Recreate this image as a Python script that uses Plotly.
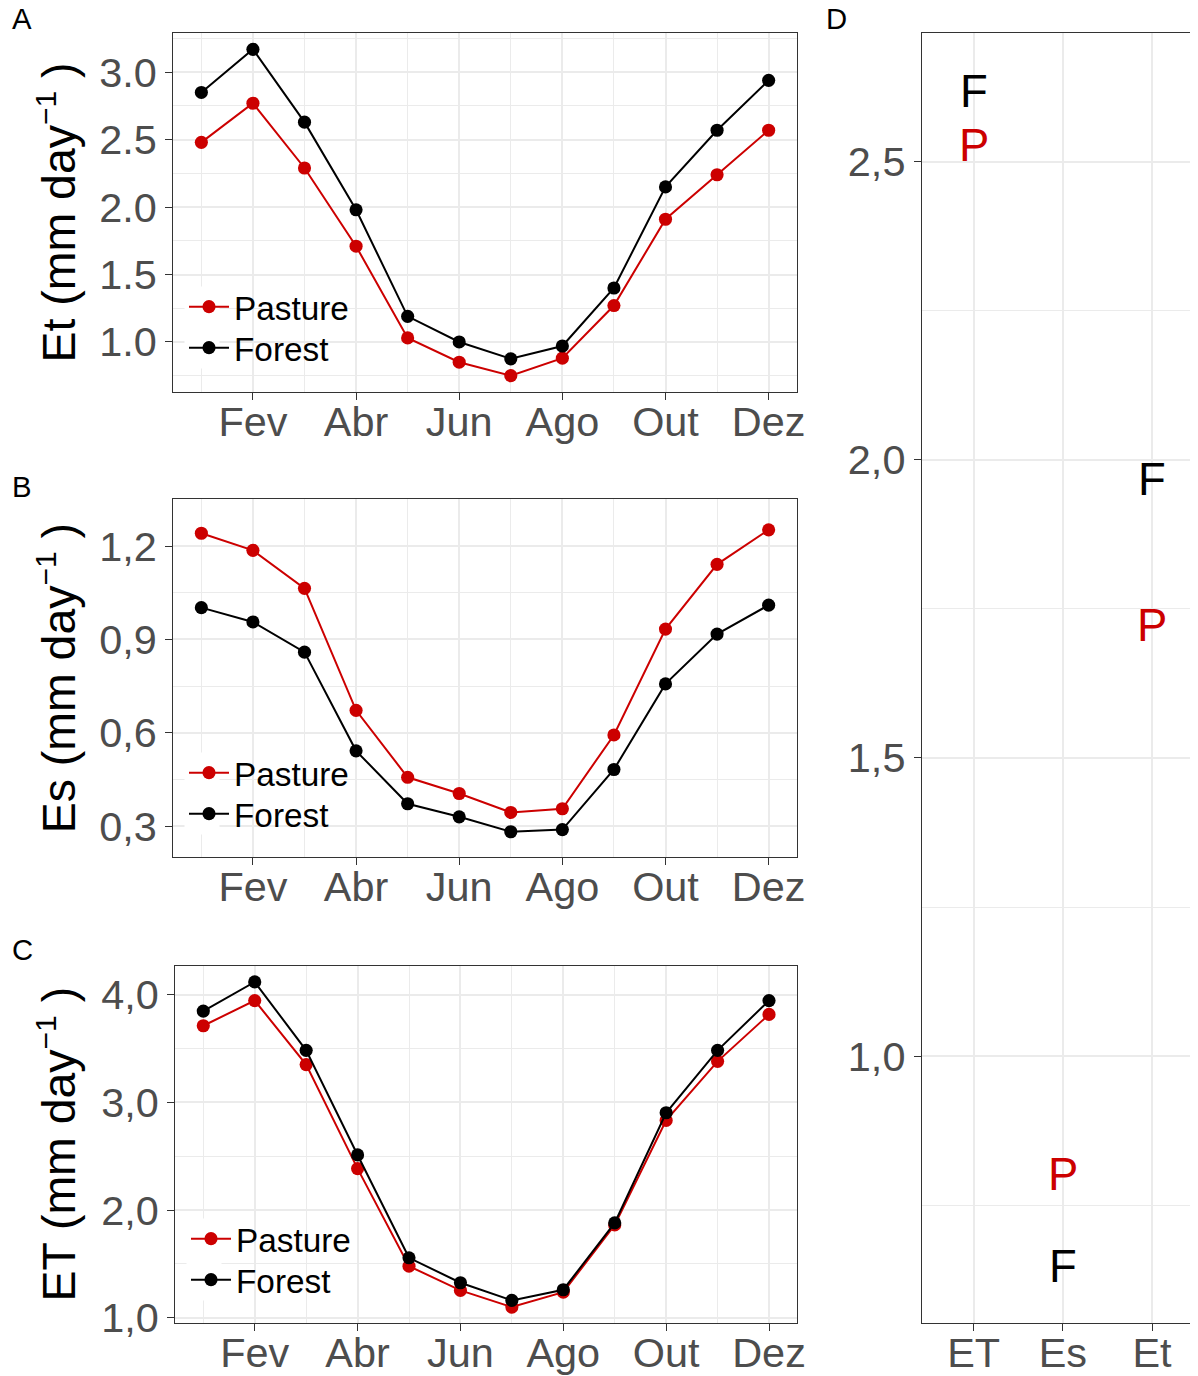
import plotly.graph_objects as go

W, H = 1198, 1376
# the page is photographed slightly shrunk; map reference pixels onto the visible paper
EW, EH = 1190.0, 1358.0
FS = 1.01  # font / marker compensation for the shrink

# ---------------- data ----------------
months = list(range(1, 13))
month_tick_vals = [2, 4, 6, 8, 10, 12]
month_tick_labels = ["Fev", "Abr", "Jun", "Ago", "Out", "Dez"]

# Panel A: Et (transpiration)
et_pasture = [2.48, 2.77, 2.29, 1.71, 1.03, 0.85, 0.75, 0.88, 1.27, 1.91, 2.24, 2.57]
et_forest = [2.85, 3.17, 2.63, 1.98, 1.19, 1.00, 0.875, 0.97, 1.40, 2.15, 2.57, 2.94]

# Panel B: Es (soil evaporation)
es_pasture = [1.241, 1.186, 1.064, 0.672, 0.457, 0.405, 0.344, 0.356, 0.593, 0.933, 1.141, 1.252]
es_forest = [1.002, 0.956, 0.859, 0.542, 0.372, 0.330, 0.282, 0.289, 0.482, 0.757, 0.917, 1.010]

# Panel C: ET (total evapotranspiration)
ett_pasture = [3.713, 3.947, 3.352, 2.385, 1.478, 1.253, 1.098, 1.237, 1.861, 2.833, 3.382, 3.818]
ett_forest = [3.849, 4.120, 3.484, 2.512, 1.556, 1.324, 1.160, 1.259, 1.880, 2.904, 3.484, 3.947]

# Panel D: annual means
d_components = ["ET", "Es", "Et"]
d_forest = [2.62, 0.65, 1.97]
d_pasture = [2.53, 0.805, 1.725]

series_names = ["Pasture", "Forest"]
series_letters = ["P", "F"]

RED = "#CC0000"
BLACK = "#000000"
TICK = "#4D4D4D"
GRID = "#EBEBEB"
BORDER = "#333333"
FONT = "Liberation Sans, Arial, sans-serif"


def xp(px):
    return min(px / EW, 1.0)


def yp(py):
    return max(1 - py / EH, 0.0)


fig = go.Figure()

panels = [
    dict(p=et_pasture, f=et_forest, ax="", legs=("legend", "legend2"), legy=(307, 348), legx=184,
         xdom=(173, 797), ydom=(33, 392), yr=[0.629, 3.291],
         ytv=[1.0, 1.5, 2.0, 2.5, 3.0], ytt=["1.0", "1.5", "2.0", "2.5", "3.0"],
         ymin=[0.75, 1.25, 1.75, 2.25, 2.75, 3.25], title="Et"),
    dict(p=es_pasture, f=es_forest, ax="2", legs=("legend3", "legend4"), legy=(773, 814), legx=184,
         xdom=(173, 797), ydom=(499.3, 857.3), yr=[0.2, 1.35],
         ytv=[0.3, 0.6, 0.9, 1.2], ytt=["0,3", "0,6", "0,9", "1,2"],
         ymin=[0.45, 0.75, 1.05], title="Es"),
    dict(p=ett_pasture, f=ett_forest, ax="3", legs=("legend5", "legend6"), legy=(1239, 1280), legx=186,
         xdom=(175, 797.3), ydom=(965.7, 1323.3), yr=[0.947, 4.271],
         ytv=[1.0, 2.0, 3.0, 4.0], ytt=["1,0", "2,0", "3,0", "4,0"],
         ymin=[1.5, 2.5, 3.5], title="ET"),
]

legend_common = dict(
    bgcolor="rgba(0,0,0,0)", borderwidth=0, font=dict(size=33 * FS, color="black", family=FONT),
    xanchor="left", yanchor="middle", itemwidth=40,
)

tickfont = dict(size=41 * FS, color=TICK, family=FONT)

layout_axes = {}
legends = {}
shapes = []
for pn in panels:
    ax = pn["ax"]
    for name, vals, col, leg, ly in [(series_names[0], pn["p"], RED, pn["legs"][0], pn["legy"][0]),
                                     (series_names[1], pn["f"], BLACK, pn["legs"][1], pn["legy"][1])]:
        fig.add_trace(go.Scatter(
            x=months, y=vals, mode="lines+markers", name=name,
            line=dict(color=col, width=2), marker=dict(color=col, size=13 * FS),
            xaxis="x" + ax, yaxis="y" + ax, legend=leg, showlegend=True,
        ))
        legends[leg] = dict(x=xp(pn["legx"]), y=yp(ly), **legend_common)
    # white legend-key backgrounds (as in ggplot's theme_bw)
    kx0 = pn["legx"] + 0.5
    shapes.append(dict(type="rect", xref="paper", yref="paper", layer="above",
                       x0=xp(kx0), x1=xp(kx0 + 35), y0=yp(pn["legy"][1] + 20.5), y1=yp(pn["legy"][0] - 20.5),
                       fillcolor="white", line=dict(width=0)))
    layout_axes["xaxis" + ax] = dict(
        domain=[xp(pn["xdom"][0]), xp(pn["xdom"][1])], anchor="y" + ax,
        range=[0.45, 12.55], tickvals=month_tick_vals, ticktext=month_tick_labels,
        tickfont=tickfont,
        ticks="outside", ticklen=7, tickcolor=BORDER, tickwidth=1, ticklabelstandoff=-14,
        showline=True, mirror=True, linecolor=BORDER, linewidth=1,
        showgrid=True, gridcolor=GRID, gridwidth=2, zeroline=False,
        minor=dict(tickvals=[1, 3, 5, 7, 9, 11], showgrid=True, gridcolor=GRID, gridwidth=1),
    )
    layout_axes["yaxis" + ax] = dict(
        domain=[yp(pn["ydom"][1]), yp(pn["ydom"][0])], anchor="x" + ax,
        range=pn["yr"], tickvals=pn["ytv"], ticktext=pn["ytt"],
        tickfont=tickfont,
        ticks="outside", ticklen=7, tickcolor=BORDER, tickwidth=1,
        showline=True, mirror=True, linecolor=BORDER, linewidth=1,
        showgrid=True, gridcolor=GRID, gridwidth=2, zeroline=False,
        minor=dict(tickvals=pn["ymin"], showgrid=True, gridcolor=GRID, gridwidth=1),
    )

# Panel D: invisible anchor trace so the axes exist, letters as data-anchored annotations
fig.add_trace(go.Scatter(x=d_components, y=d_forest, mode="markers", marker=dict(opacity=0),
                         xaxis="x4", yaxis="y4", showlegend=False, hoverinfo="skip"))

annotations = []
for letter, vals, col in [(series_letters[1], d_forest, BLACK), (series_letters[0], d_pasture, RED)]:
    for comp, v in zip(d_components, vals):
        annotations.append(dict(text=letter, x=comp, y=v, xref="x4", yref="y4",
                                xanchor="center", yanchor="middle", yshift=-2, showarrow=False,
                                font=dict(size=45 * FS, color=col, family=FONT)))

# category index 0 at px 973.7, spacing 89.15 px; right end cut by the page edge
d_left = 921.7
d_right = min(1198.0, EW)
layout_axes["xaxis4"] = dict(
    domain=[xp(d_left), xp(d_right)], anchor="y4", type="category",
    categoryorder="array", categoryarray=d_components,
    range=[(d_left - 973.7) / 89.15, (d_right - 973.7) / 89.15],
    tickfont=tickfont,
    ticks="outside", ticklen=7, tickcolor=BORDER, tickwidth=1, ticklabelstandoff=-14,
    showline=True, mirror=True, linecolor=BORDER, linewidth=1,
    showgrid=True, gridcolor=GRID, gridwidth=2, zeroline=False,
)
layout_axes["yaxis4"] = dict(
    domain=[yp(1323.3), yp(33.3)], anchor="x4",
    range=[0.552, 2.715], tickvals=[1.0, 1.5, 2.0, 2.5], ticktext=["1,0", "1,5", "2,0", "2,5"],
    tickfont=tickfont,
    ticks="outside", ticklen=7, tickcolor=BORDER, tickwidth=1,
    showline=True, mirror=False, linecolor=BORDER, linewidth=1,
    showgrid=True, gridcolor=GRID, gridwidth=2, zeroline=False,
    minor=dict(tickvals=[0.75, 1.25, 1.75, 2.25], showgrid=True, gridcolor=GRID, gridwidth=1),
)

for lbl, (lx, ly) in zip(["A", "B", "C", "D"], [(10, 19), (10, 486), (10, 950), (824, 19)]):
    annotations.append(dict(text=lbl, x=xp(lx), y=yp(ly), xref="paper", yref="paper",
                            xanchor="left", yanchor="middle", showarrow=False,
                            font=dict(size=29 * FS, color="black", family=FONT)))
for pn in panels:
    cy = (pn["ydom"][0] + pn["ydom"][1]) / 2
    annotations.append(dict(
        text=pn["title"] + " (mm day<sup><span style='font-size:30px'>\u22121</span></sup> )",
        x=xp(57), y=yp(cy), xref="paper", yref="paper",
        xanchor="center", yanchor="middle", textangle=-90, showarrow=False,
        font=dict(size=46 * FS, color="black", family=FONT)))

fig.update_layout(
    width=W, height=H, autosize=False, margin=dict(l=0, r=0, t=0, b=0),
    plot_bgcolor="white", paper_bgcolor="white",
    font=dict(family=FONT),
    annotations=annotations,
    shapes=shapes,
    **legends,
    **layout_axes,
)

fig.write_html("out.html", config={"responsive": False})
